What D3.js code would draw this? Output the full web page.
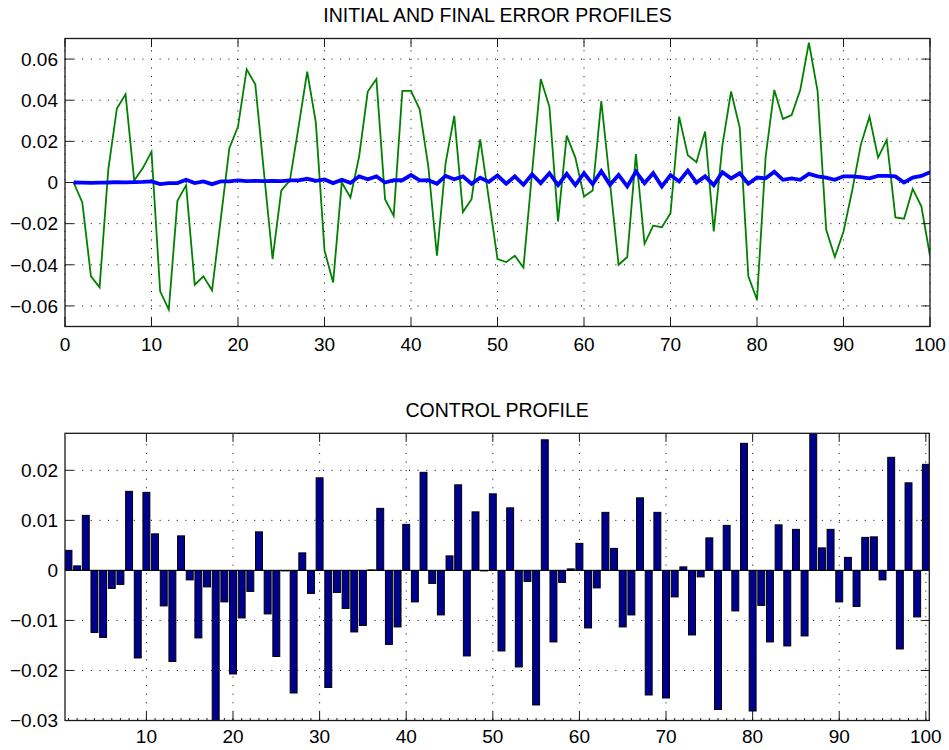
<!DOCTYPE html>
<html>
<head>
<meta charset="utf-8">
<script src="https://cdn.jsdelivr.net/npm/d3@7"></script>
<style>
  body { margin: 0; background: #fff; }
  svg { display: block; font-family: "Liberation Sans", Arial, sans-serif; }
  .grid line { stroke: #000; stroke-width: 1; stroke-dasharray: 1,7.6; }
</style>
</head>
<body>
<svg id="chart" width="949" height="750"></svg>
<script>
// initial error (green) and final error (blue), samples 1..100
var initialError = [0, -0.0097, -0.0456, -0.051, 0.0061, 0.036, 0.0429, 0.001, 0.007, 0.015,
  -0.0529, -0.0618, -0.0089, -0.0013, -0.0497, -0.0456, -0.0524, -0.018, 0.0167, 0.0272,
  0.055, 0.0477, 0.005, -0.0372, -0.004, 0.001, 0.027, 0.0539, 0.0291, -0.033,
  -0.0486, 0, -0.0073, 0.0126, 0.0442, 0.0503, -0.0081, -0.0162, 0.0445, 0.0445,
  0.0356, 0.0078, -0.0356, 0.0094, 0.0324, -0.0144, -0.0081, 0.021, -0.008, -0.0372,
  -0.0387, -0.0356, -0.0413, 0.005, 0.0503, 0.0369, -0.0189, 0.0228, 0.0121, -0.0068,
  -0.0039, 0.0396, 0, -0.040, -0.0362, 0.0138, -0.0298, -0.021, -0.0217, -0.0149,
  0.032, 0.0133, 0.0099, 0.0248, -0.0238, 0.018, 0.0442, 0.0267, -0.0456, -0.057,
  0.0126, 0.045, 0.0309, 0.0328, 0.045, 0.068, 0.0445, -0.023, -0.0362, -0.0238,
  -0.004, 0.0183, 0.032, 0.0121, 0.0207, -0.017, -0.0176, -0.0031, -0.0116, -0.0356];

var finalError = [0, -0.0001, -0.0002, -0.0001, 0, 0.0002, 0.0001, 0.0002, 0.0003, 0.0005,
  -0.0008, -0.0003, -0.0003, 0.0013, -0.0003, 0.0005, -0.0008, 0.0005, 0.0005, 0.001,
  0.0007, 0.0008, 0.0007, 0.0008, 0.0007, 0.001, 0.001, 0.0018, 0.0008, 0.0015,
  -0.0003, 0.0013, -0.0002, 0.003, 0.0016, 0.003, 0, 0.0011, 0.0011, 0.0036,
  0.001, 0.0011, -0.0006, 0.0032, 0.0016, 0.003, -0.0006, 0.0023, 0.0003, 0.0034,
  -0.0006, 0.003, -0.0011, 0.004, -0.0003, 0.0045, -0.0013, 0.0042, -0.0013, 0.0045,
  -0.0008, 0.0055, -0.0011, 0.0037, -0.0019, 0.0053, -0.0003, 0.0045, -0.0019, 0.0036,
  0.0005, 0.0058, 0, 0.003, -0.0013, 0.005, 0.002, 0.0045, -0.0006, 0.0024,
  0.002, 0.0052, 0.0013, 0.002, 0.0013, 0.0042, 0.003, 0.0024, 0.0013, 0.003,
  0.003, 0.0026, 0.002, 0.0032, 0.0032, 0.003, 0, 0.0024, 0.0032, 0.005];

// control input (bars)
var control = [0.0040, 0.0009, 0.011, -0.0124, -0.0134, -0.0036, -0.0028, 0.0158, -0.0175, 0.0156,
  0.0073, -0.0071, -0.0182, 0.0069, -0.0019, -0.0135, -0.0033, -0.0301, -0.0063, -0.0207,
  -0.0095, -0.0042, 0.0077, -0.0087, -0.0172, -0.0001, -0.0245, 0.0035, -0.0046, 0.0185,
  -0.0234, -0.0044, -0.0076, -0.0123, -0.011, 0.0001, 0.0124, -0.0148, -0.0113, 0.0092,
  -0.0063, 0.0196, -0.0026, -0.0089, 0.0029, 0.0171, -0.0171, 0.0117, -0.0001, 0.0153,
  -0.0161, 0.0125, -0.0193, -0.0022, -0.0269, 0.0261, -0.0143, -0.0024, 0.0003, 0.0054,
  -0.0115, -0.0035, 0.0116, 0.0044, -0.0113, -0.0089, 0.0145, -0.0249, 0.0116, -0.0255,
  -0.0053, 0.0007, -0.0129, -0.0013, 0.0065, -0.0278, 0.009, -0.0081, 0.0254, -0.0281,
  -0.007, -0.0143, 0.0091, -0.0151, 0.0082, -0.0131, 0.0275, 0.0045, 0.0082, -0.0063,
  0.0026, -0.0072, 0.0066, 0.0067, -0.0019, 0.0226, -0.0157, 0.0175, -0.0093, 0.0212];

var topTitle = "INITIAL AND FINAL ERROR PROFILES";
var bottomTitle = "CONTROL PROFILE";
var topYTicks = [-0.06, -0.04, -0.02, 0, 0.02, 0.04, 0.06];
var topXTicks = [0, 10, 20, 30, 40, 50, 60, 70, 80, 90, 100];
var bottomYTicks = [-0.03, -0.02, -0.01, 0, 0.01, 0.02];
var bottomXTicks = [10, 20, 30, 40, 50, 60, 70, 80, 90, 100];

var svg = d3.select('#chart');
var fmt = function(d){ return Math.abs(d) < 1e-9 ? "0" : d3.format(".2f")(d); };
var idx = d3.range(1, 101);

// draws the grid, title and tick labels of one MATLAB-style axes box
function makeAxes(box, x, y, xticks, yticks, title, xlabelOffset) {
  var g = svg.append('g');
  var grid = g.append('g').attr('class', 'grid');
  grid.selectAll('.gx').data(xticks).enter().append('line')
    .attr('x1', d => x(d)).attr('x2', d => x(d))
    .attr('y1', box.bottom).attr('y2', box.top);
  grid.selectAll('.gy').data(yticks).enter().append('line')
    .attr('y1', d => y(d)).attr('y2', d => y(d))
    .attr('x1', box.left).attr('x2', box.right);

  g.append('text')
    .attr('x', (box.left + box.right) / 2).attr('y', box.top - 16.3)
    .attr('text-anchor', 'middle').attr('font-size', 19.5).text(title);

  g.selectAll('.yl').data(yticks).enter().append('text')
    .attr('x', box.left - 7).attr('y', d => y(d) + 6.8)
    .attr('text-anchor', 'end').attr('font-size', 19).text(fmt);
  g.selectAll('.xl').data(xticks).enter().append('text')
    .attr('x', d => x(d)).attr('y', box.bottom + xlabelOffset)
    .attr('text-anchor', 'middle').attr('font-size', 19).text(d => d);
  return g;
}

// box outline plus inward ticks on all four sides
function drawFrame(box, x, y, xticks, yticks) {
  var g = svg.append('g').attr('stroke', '#1a1a1a').attr('stroke-width', 1);
  var tl = 8.6;
  xticks.forEach(function(t){
    g.append('line').attr('x1', x(t)).attr('x2', x(t)).attr('y1', box.bottom).attr('y2', box.bottom - tl);
    g.append('line').attr('x1', x(t)).attr('x2', x(t)).attr('y1', box.top).attr('y2', box.top + tl);
  });
  yticks.forEach(function(t){
    g.append('line').attr('y1', y(t)).attr('y2', y(t)).attr('x1', box.left).attr('x2', box.left + tl);
    g.append('line').attr('y1', y(t)).attr('y2', y(t)).attr('x1', box.right).attr('x2', box.right - tl);
  });
  g.append('rect')
    .attr('x', box.left).attr('y', box.top)
    .attr('width', box.right - box.left).attr('height', box.bottom - box.top)
    .attr('fill', 'none').attr('stroke-width', 1.3);
  return g;
}

// ---- top: error profiles ----
var box1 = { left: 65, right: 930, top: 38.5, bottom: 326.5 };
var x1 = d3.scaleLinear().domain([0, 100]).range([box1.left, box1.right]);
var y1 = d3.scaleLinear().domain([-0.07, 0.07]).range([box1.bottom, box1.top]);
makeAxes(box1, x1, y1, topXTicks, topYTicks, topTitle, 24);

svg.append('clipPath').attr('id', 'clip1').append('rect')
  .attr('x', box1.left).attr('y', box1.top)
  .attr('width', box1.right - box1.left).attr('height', box1.bottom - box1.top);

var line1 = d3.line().x((d, i) => x1(i + 1)).y(d => y1(d));
svg.append('path').datum(initialError)
  .attr('clip-path', 'url(#clip1)')
  .attr('d', line1).attr('fill', 'none')
  .attr('stroke', '#008000').attr('stroke-width', 1.8);
svg.append('path').datum(finalError)
  .attr('clip-path', 'url(#clip1)')
  .attr('d', line1).attr('fill', 'none')
  .attr('stroke', '#0000ff').attr('stroke-width', 3.8);
drawFrame(box1, x1, y1, topXTicks, topYTicks);

// ---- bottom: control profile ----
var box2 = { left: 65, right: 929.3, top: 433.3, bottom: 720.5 };
var x2 = d3.scaleLinear().domain([0.6, 100.4]).range([box2.left, box2.right]);
var y2 = d3.scaleLinear().domain([-0.03, 0.0274]).range([box2.bottom, box2.top]);
makeAxes(box2, x2, y2, bottomXTicks, bottomYTicks, bottomTitle, 22.8);

svg.append('clipPath').attr('id', 'clip2').append('rect')
  .attr('x', box2.left).attr('y', box2.top)
  .attr('width', box2.right - box2.left).attr('height', box2.bottom - box2.top);

var bw = x2(0.8) - x2(0);
svg.append('g').attr('clip-path', 'url(#clip2)')
  .selectAll('rect').data(control).enter().append('rect')
  .attr('x', (d, i) => x2(i + 1) - bw / 2)
  .attr('width', bw)
  .attr('y', d => y2(Math.max(0, d)))
  .attr('height', d => Math.abs(y2(d) - y2(0)))
  .attr('fill', '#00008f').attr('stroke', '#000').attr('stroke-width', 1);

svg.append('line')
  .attr('x1', box2.left).attr('x2', box2.right)
  .attr('y1', y2(0)).attr('y2', y2(0))
  .attr('stroke', '#000').attr('stroke-width', 1);

var frame2 = drawFrame(box2, x2, y2, bottomXTicks, bottomYTicks);
// small marks at each bar position along the bottom edge
frame2.selectAll('.minor').data(idx).enter().append('line')
  .attr('x1', d => x2(d)).attr('x2', d => x2(d))
  .attr('y1', box2.bottom).attr('y2', box2.bottom - 2.5);
</script>
</body>
</html>
